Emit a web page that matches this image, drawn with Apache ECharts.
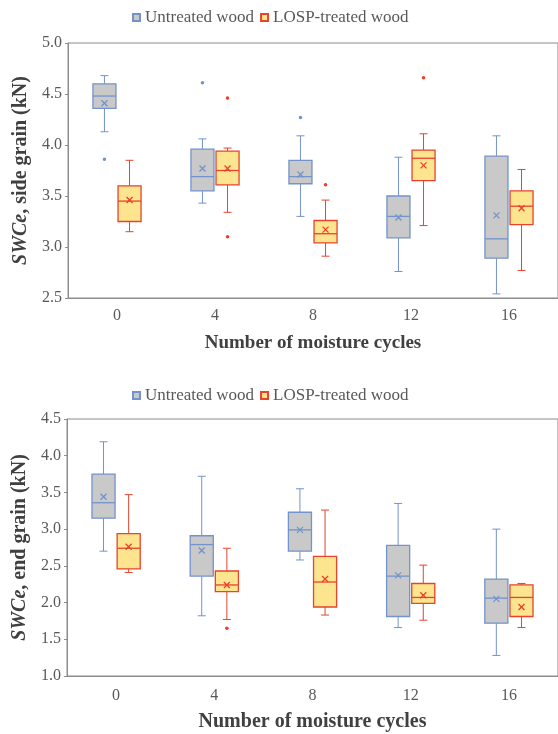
<!DOCTYPE html>
<html>
<head>
<meta charset="utf-8">
<script src="https://cdn.jsdelivr.net/npm/echarts@6/dist/echarts.min.js"></script>
<style>
  html, body { margin: 0; padding: 0; background: #fff; }
  #chart { width: 558px; height: 734px; }
</style>
</head>
<body>
<div id="chart"></div>
<script>
// moisture cycles (x categories)
const cycles = ['0', '4', '8', '12', '16'];

// side grain, untreated wood
const sideUntMin  = [4.13, 3.43, 3.30, 2.76, 2.54];
const sideUntQ1   = [4.36, 3.55, 3.62, 3.09, 2.89];
const sideUntMed  = [4.48, 3.69, 3.69, 3.30, 3.08];
const sideUntQ3   = [4.60, 3.96, 3.85, 3.50, 3.89];
const sideUntMax  = [4.68, 4.06, 4.09, 3.88, 4.09];
const sideUntMean = [4.41, 3.77, 3.71, 3.29, 3.31];
const sideUntOut  = [[0, 3.86], [1, 4.61], [2, 4.27]];

// side grain, LOSP-treated wood
const sideTrtMin  = [3.15, 3.34, 2.91, 3.21, 2.77];
const sideTrtQ1   = [3.25, 3.61, 3.04, 3.65, 3.22];
const sideTrtMed  = [3.45, 3.75, 3.13, 3.87, 3.40];
const sideTrtQ3   = [3.60, 3.94, 3.26, 3.95, 3.55];
const sideTrtMax  = [3.85, 3.97, 3.46, 4.11, 3.76];
const sideTrtMean = [3.46, 3.77, 3.17, 3.80, 3.38];
const sideTrtOut  = [[1, 4.46], [1, 3.10], [2, 3.61], [3, 4.66]];

// end grain, untreated wood
const endUntMin  = [2.70, 1.82, 2.58, 1.66, 1.28];
const endUntQ1   = [3.15, 2.36, 2.70, 1.81, 1.72];
const endUntMed  = [3.36, 2.79, 2.99, 2.36, 2.06];
const endUntQ3   = [3.75, 2.91, 3.23, 2.78, 2.32];
const endUntMax  = [4.19, 3.72, 3.55, 3.35, 3.00];
const endUntMean = [3.44, 2.71, 2.99, 2.37, 2.05];
const endUntOut  = [];

// end grain, LOSP-treated wood
const endTrtMin  = [2.41, 1.77, 1.83, 1.76, 1.66];
const endTrtQ1   = [2.46, 2.15, 1.94, 1.99, 1.81];
const endTrtMed  = [2.74, 2.24, 2.28, 2.07, 2.07];
const endTrtQ3   = [2.94, 2.43, 2.63, 2.26, 2.24];
const endTrtMax  = [3.47, 2.74, 3.26, 2.51, 2.26];
const endTrtMean = [2.76, 2.24, 2.32, 2.10, 1.94];
const endTrtOut  = [[1, 1.65]];

const UNT = 'Untreated wood';
const TRT = 'LOSP-treated wood';
const untStyle = { fill: '#c9c9c9', stroke: '#7393cc' };
const trtStyle = { fill: '#fde58f', stroke: '#e8432c' };
const serif = '"Liberation Serif", "DejaVu Serif", serif';

function rows(mn, q1, md, q3, mx, mean) {
  return cycles.map((c, i) => [i, mn[i], q1[i], md[i], q3[i], mx[i], mean[i]]);
}

function boxRenderer(off, st) {
  return function (params, api) {
    const i = api.value(0);
    const band = api.size([1, 0])[0];
    const cx = api.coord([i, 0])[0] + off * band;
    const w = band * 0.235;
    const y = k => api.coord([i, api.value(k)])[1];
    const yMin = y(1), yQ1 = y(2), yMed = y(3), yQ3 = y(4), yMax = y(5), yMean = y(6);
    const ln = { stroke: st.stroke, lineWidth: 1 };
    const cap = 4;
    const m = 3;
    return {
      type: 'group',
      children: [
        { type: 'line', shape: { x1: cx, y1: yMax, x2: cx, y2: yQ3 }, style: ln },
        { type: 'line', shape: { x1: cx, y1: yQ1, x2: cx, y2: yMin }, style: ln },
        { type: 'line', shape: { x1: cx - cap, y1: yMax, x2: cx + cap, y2: yMax }, style: ln },
        { type: 'line', shape: { x1: cx - cap, y1: yMin, x2: cx + cap, y2: yMin }, style: ln },
        { type: 'rect', shape: { x: cx - w / 2, y: yQ3, width: w, height: yQ1 - yQ3 },
          style: { fill: st.fill, stroke: st.stroke, lineWidth: 1.3 } },
        { type: 'line', shape: { x1: cx - w / 2, y1: yMed, x2: cx + w / 2, y2: yMed },
          style: { stroke: st.stroke, lineWidth: 1.3 } },
        { type: 'line', shape: { x1: cx - m, y1: yMean - m, x2: cx + m, y2: yMean + m },
          style: { stroke: st.stroke, lineWidth: 1.3 } },
        { type: 'line', shape: { x1: cx - m, y1: yMean + m, x2: cx + m, y2: yMean - m },
          style: { stroke: st.stroke, lineWidth: 1.3 } }
      ]
    };
  };
}

function outRenderer(off, st) {
  return function (params, api) {
    const band = api.size([1, 0])[0];
    const p = api.coord([api.value(0), api.value(1)]);
    return { type: 'circle', shape: { cx: p[0] + off * band, cy: p[1], r: 1.8 },
      style: { fill: st.stroke } };
  };
}

function boxSeries(name, idx, off, st, data) {
  return {
    type: 'custom', name: name, xAxisIndex: idx, yAxisIndex: idx,
    itemStyle: { color: st.fill, borderColor: st.stroke, borderWidth: 1 },
    encode: { x: 0, y: [1, 2, 3, 4, 5] },
    renderItem: boxRenderer(off, st), data: data, z: 3
  };
}

function outSeries(name, idx, off, st, data) {
  return {
    type: 'custom', name: name, xAxisIndex: idx, yAxisIndex: idx,
    itemStyle: { color: st.fill, borderColor: st.stroke },
    encode: { x: 0, y: 1 },
    renderItem: outRenderer(off, st), data: data, z: 4
  };
}

function legend(top) {
  return {
    top: top, left: 127, data: [UNT, TRT], icon: 'rect',
    itemWidth: 7, itemHeight: 7, itemGap: 6,
    textStyle: { fontFamily: serif, fontSize: 17, color: '#595959' }
  };
}

function xAxis(idx, margin, gap, nameSize) {
  return {
    type: 'category', gridIndex: idx, data: cycles,
    name: 'Number of moisture cycles', nameLocation: 'middle', nameGap: gap,
    nameTextStyle: { fontFamily: serif, fontWeight: 'bold', fontSize: nameSize, color: '#404040' },
    axisLine: { lineStyle: { color: '#8c8c8c' } },
    axisTick: { show: false },
    axisLabel: { margin: margin, fontFamily: serif, fontSize: 16, color: '#595959' }
  };
}

function yAxis(idx, min, max, label) {
  return {
    type: 'value', gridIndex: idx, min: min, max: max, interval: 0.5,
    name: '{i|SWCe}{b|, ' + label + ' grain (kN)}', nameLocation: 'middle', nameGap: 29,
    nameTextStyle: {
      rich: {
        i: { fontFamily: serif, fontWeight: 'bold', fontStyle: 'italic', fontSize: 20, color: '#404040' },
        b: { fontFamily: serif, fontWeight: 'bold', fontSize: 20, color: '#404040' }
      }
    },
    splitLine: { show: false },
    axisLine: { show: true, lineStyle: { color: '#8c8c8c' } },
    axisTick: { show: true, length: 3, lineStyle: { color: '#8c8c8c' } },
    axisLabel: { margin: 6, fontFamily: serif, fontSize: 16, color: '#595959',
      formatter: v => v.toFixed(1) }
  };
}

const chart = echarts.init(document.getElementById('chart'));
chart.setOption({
  animation: false,
  backgroundColor: '#fff',
  legend: [legend(4), legend(382)],
  grid: [
    { left: 68, top: 43, width: 493, height: 255, show: true, borderColor: '#8c8c8c', borderWidth: 1 },
    { left: 67, top: 419, width: 494, height: 257, show: true, borderColor: '#8c8c8c', borderWidth: 1 }
  ],
  xAxis: [xAxis(0, 10, 36, 19), xAxis(1, 12, 36, 20)],
  yAxis: [yAxis(0, 2.5, 5.0, 'side'), yAxis(1, 1.0, 4.5, 'end')],
  series: [
    boxSeries(UNT, 0, -0.128, untStyle, rows(sideUntMin, sideUntQ1, sideUntMed, sideUntQ3, sideUntMax, sideUntMean)),
    boxSeries(TRT, 0, 0.128, trtStyle, rows(sideTrtMin, sideTrtQ1, sideTrtMed, sideTrtQ3, sideTrtMax, sideTrtMean)),
    outSeries(UNT, 0, -0.128, untStyle, sideUntOut),
    outSeries(TRT, 0, 0.128, trtStyle, sideTrtOut),
    boxSeries(UNT, 1, -0.128, untStyle, rows(endUntMin, endUntQ1, endUntMed, endUntQ3, endUntMax, endUntMean)),
    boxSeries(TRT, 1, 0.128, trtStyle, rows(endTrtMin, endTrtQ1, endTrtMed, endTrtQ3, endTrtMax, endTrtMean)),
    outSeries(UNT, 1, -0.128, untStyle, endUntOut),
    outSeries(TRT, 1, 0.128, trtStyle, endTrtOut)
  ]
});
</script>
</body>
</html>
